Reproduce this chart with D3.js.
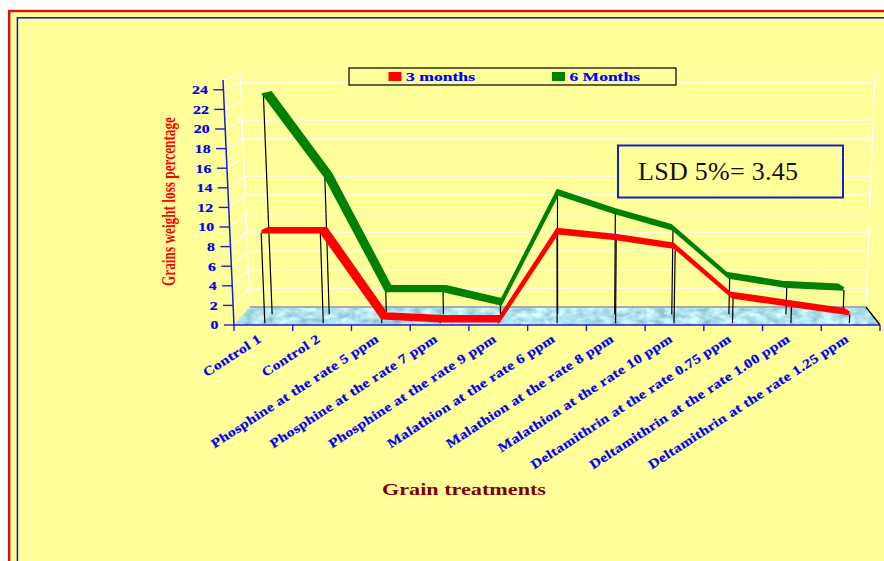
<!DOCTYPE html>
<html><head><meta charset="utf-8">
<script src="https://cdn.jsdelivr.net/npm/d3@7/dist/d3.min.js"></script>
<style>html,body{margin:0;padding:0;background:#fff;overflow:hidden}svg{display:block}
text{font-family:"Liberation Serif","Times New Roman",serif}</style></head>
<body><svg id="c" width="884" height="561"></svg>
<script>
const categories = ["Control 1","Control 2","Phosphine at the rate 5 ppm","Phosphine at the rate 7 ppm","Phosphine at the rate 9 ppm","Malathion at the rate 6 ppm","Malathion at the rate 8 ppm","Malathion at the rate 10 ppm","Deltamithrin at the rate 0.75 ppm","Deltamithrin at the rate 1.00 ppm","Deltamithrin at the rate 1.25 ppm"];
const months3 = [9.3,9.3,0.45,0.15,0.15,9.2,8.6,7.7,2.6,1.75,0.9];
const months6 = [23.0,14.4,2.4,2.4,1.0,12.6,10.6,8.9,3.8,2.85,2.55];
const yTicks = [0,2,4,6,8,10,12,14,16,18,20,22,24];
const seriesNames = ["3 months","6 Months"];
const colors = ["#ff0000","#008000"];
const BLUE = "#0000ee";

const svg = d3.select("#c");
const defs = svg.append("defs");
const f = defs.append("filter").attr("id","tex").attr("x",0).attr("y",0).attr("width",1).attr("height",1).attr("color-interpolation-filters","sRGB");
f.append("feTurbulence").attr("type","fractalNoise").attr("baseFrequency","0.09 0.16").attr("numOctaves",3).attr("seed",4).attr("result","n");
f.append("feColorMatrix").attr("in","n").attr("type","matrix")
 .attr("values","0.55 0 0 0 0.43  0.4 0 0 0 0.69  0.3 0 0 0 0.78  0 0 0 0 1").attr("result","c");
f.append("feComposite").attr("in","c").attr("in2","SourceAlpha").attr("operator","in");

// frame and page
svg.append("rect").attr("x",9.2).attr("y",11).attr("width",900).attr("height",600).attr("fill","#FFFF99").attr("stroke","#d81010").attr("stroke-width",2.4);
svg.append("rect").attr("x",17.4).attr("y",17.8).attr("width",900).attr("height",600).attr("fill","#FFFF99").attr("stroke","#1010e8").attr("stroke-width",1.5);

// 3D projection built from scales: i = category position, v = value, t = depth 0 front .. 1 back
const sU = d3.scaleLinear().domain([0,categories.length]).range([0,1]);
const sV = d3.scaleLinear().domain([0,25]).range([0,1]);
const xl0 = d3.scaleLinear().domain([0,1]).range([234,250]);
const xl1 = d3.scaleLinear().domain([0,1]).range([223,240]);
const xr0 = d3.scaleLinear().domain([0,1]).range([880,866]);
const xr1 = d3.scaleLinear().domain([0,1]).range([891,875]);
const y0 = d3.scaleLinear().domain([0,1]).range([325,307]);
const h = d3.scaleLinear().domain([0,1]).range([245,233.5]);
function P(i,v,t){
  const a=sV(v), u=sU(i);
  const l=xl0(t)+(xl1(t)-xl0(t))*a, r=xr0(t)+(xr1(t)-xr0(t))*a;
  return [l+(r-l)*u, y0(t)-h(t)*a];
}
const poly = pts => d3.line()(pts)+"Z";
const n = categories.length;

// floor
svg.append("path").attr("d",poly([P(0,0,0),P(0,0,1),P(n,0,1),P(n,0,0)])).attr("fill","#b5e6f2").attr("filter","url(#tex)");
// gridlines
yTicks.concat([25]).forEach(v=>{
  if(v===0) return;
  svg.append("path").attr("d",d3.line()([P(0,v,0),P(0,v,1),P(n,v,1)])).attr("fill","none").attr("stroke","#fff").attr("stroke-width",1.1);
});
svg.append("path").attr("d",d3.line()([P(0,0,1),P(0,25,1)])).attr("fill","none").attr("stroke","#fff").attr("stroke-width",1.2);
svg.append("path").attr("d",d3.line()([P(n,0,1),P(n,25,1)])).attr("fill","none").attr("stroke","#fff").attr("stroke-width",1.2);
svg.append("path").attr("d",d3.line()([P(0,0,1),P(n,0,1)])).attr("fill","none").attr("stroke","#aaaaaa").attr("stroke-width",2);
svg.append("path").attr("d",d3.line()([P(0,0,0),P(0,0,1)])).attr("fill","none").attr("stroke","#ddd").attr("stroke-width",1);
svg.append("path").attr("d",d3.line()([P(n,0,1),P(n,0,0)])).attr("fill","none").attr("stroke","#000").attr("stroke-width",1.3);

// series: green behind, red in front; ribbon depth spreads sideways with perspective
function ribbon(vals,color,tDrop,t0,t1){
  const g=svg.append("g");
  g.selectAll("path.drop").data(vals).join("path").attr("class","drop")
    .attr("d",(v,i)=>d3.line()([P(i+.5,0,tDrop),P(i+.5,v,tDrop)]))
    .attr("stroke","#000").attr("stroke-width",1.2).attr("fill","none");
  const front=vals.map((v,i)=>P(i+.5,v,t0));
  const back=vals.map((v,i)=>{const a=P(i+.5,v,t0),b=P(i+.5,v,t1);return [a[0]+(b[0]-a[0])*2,b[1]];}).reverse();
  g.append("path").attr("d",poly(front.concat(back))).attr("fill",color).attr("stroke",color).attr("stroke-width",3.7).attr("stroke-linejoin","miter").attr("stroke-miterlimit",3);
}
ribbon(months6,colors[1],0.6,0.66,0.87);
ribbon(months3,colors[0],0.1,0.16,0.37);

// axes
const axisCol="#1c1cd8";
svg.append("path").attr("d",d3.line()([P(0,0,0),P(0,25,0)])).attr("stroke",axisCol).attr("stroke-width",1.5).attr("fill","none");
svg.append("path").attr("d",d3.line()([P(0,0,0),P(n,0,0)])).attr("stroke",axisCol).attr("stroke-width",1.5).attr("fill","none");
yTicks.forEach(v=>{
  const p=P(0,v,0);
  svg.append("line").attr("x1",p[0]-10).attr("x2",p[0]).attr("y1",p[1]).attr("y2",p[1]).attr("stroke",axisCol).attr("stroke-width",1.4);
  svg.append("text").attr("transform",`translate(${p[0]-15.5},${p[1]+4.4}) scale(1.22,1)`).attr("text-anchor","end")
    .attr("font-size",13).attr("font-weight","bold").attr("fill",BLUE).attr("stroke",BLUE).attr("stroke-width",.2).text(v);
});
d3.range(n+1).forEach(i=>{
  const p=P(i,0,0);
  svg.append("line").attr("x1",p[0]).attr("x2",p[0]).attr("y1",p[1]).attr("y2",p[1]+6).attr("stroke",axisCol).attr("stroke-width",1.4);
});
categories.forEach((c,i)=>{
  const p=P(i+.5,0,0);
  svg.append("text").attr("transform",`translate(${p[0]-1},${p[1]+16}) rotate(-33) scale(1.2,1)`).attr("text-anchor","end")
    .attr("font-size",13).attr("font-weight","bold").attr("letter-spacing",.3).attr("fill",BLUE).attr("stroke",BLUE).attr("stroke-width",.2).text(c);
});

// titles
svg.append("text").attr("transform","translate(175,286) rotate(-90)").attr("font-size",18).attr("font-weight","bold")
  .attr("textLength",169).attr("lengthAdjust","spacingAndGlyphs").attr("fill","#ff0000").text("Grains weight loss percentage");
svg.append("text").attr("x",382).attr("y",495).attr("font-size",16.5).attr("font-weight","bold").attr("textLength",164)
  .attr("lengthAdjust","spacingAndGlyphs").attr("fill","#800000").text("Grain treatments");

// legend
svg.append("rect").attr("x",349).attr("y",68).attr("width",327).attr("height",17).attr("fill","#FFFF99").attr("stroke","#111").attr("stroke-width",1.3);
[[388.5,406,69],[552,569.5,70.5]].forEach((d,i)=>{
  svg.append("rect").attr("x",d[0]).attr("y",72).attr("width",13).attr("height",9).attr("fill",colors[i]);
  svg.append("text").attr("x",d[1]).attr("y",81).attr("font-size",13.5).attr("font-weight","bold").attr("textLength",d[2]).attr("lengthAdjust","spacingAndGlyphs")
    .attr("fill",BLUE).attr("stroke",BLUE).attr("stroke-width",.2).text(seriesNames[i]);
});

// LSD note
svg.append("rect").attr("x",618).attr("y",145.5).attr("width",225).attr("height",52).attr("fill","#FFFF99").attr("stroke","#1c1cc8").attr("stroke-width",2);
svg.append("text").attr("x",638).attr("y",180).attr("font-size",26).attr("textLength",160).attr("fill","#111").text("LSD 5%= 3.45");
</script></body></html>
